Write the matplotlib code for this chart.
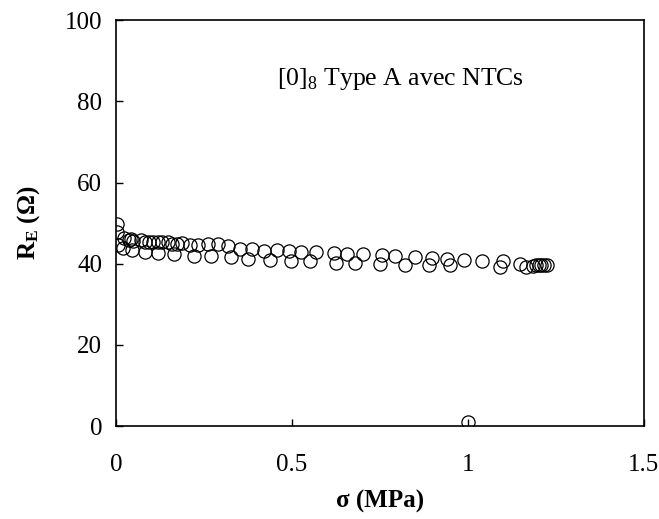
import matplotlib
matplotlib.use("Agg")
import matplotlib.pyplot as plt

# Data (stress in MPa, resistance in ohm)
sigma_upper = [0.004, 0.004, 0.024, 0.036, 0.042, 0.048, 0.072, 0.082, 0.093, 0.105,
               0.120, 0.132, 0.148, 0.160, 0.172, 0.189, 0.210, 0.234, 0.261, 0.290,
               0.318, 0.351, 0.387, 0.421, 0.457, 0.493, 0.526, 0.569, 0.619, 0.657,
               0.701, 0.755, 0.794, 0.851, 0.898, 0.940, 0.990, 1.040, 1.100, 1.148]
r_upper = [49.8, 47.9, 46.3, 45.9, 46.2, 45.7, 45.8, 45.3, 45.4, 45.3,
           45.4, 45.3, 45.4, 44.9, 44.8, 45.1, 44.5, 44.5, 44.9, 44.9,
           44.3, 43.7, 43.7, 43.2, 43.3, 43.1, 42.8, 42.8, 42.7, 42.4,
           42.3, 42.1, 41.8, 41.6, 41.4, 41.2, 41.0, 40.6, 40.6, 40.0]

sigma_lower = [0.006, 0.020, 0.046, 0.082, 0.120, 0.165, 0.222, 0.270, 0.328, 0.376,
               0.439, 0.496, 0.550, 0.625, 0.679, 0.749, 0.821, 0.889, 0.950, 1.091,
               1.166, 1.186, 1.194, 1.202, 1.208, 1.216, 1.224, 1.001]
r_lower = [44.7, 44.0, 43.3, 42.9, 42.7, 42.3, 42.0, 41.8, 41.6, 41.2,
           40.9, 40.6, 40.6, 40.2, 40.2, 40.0, 39.8, 39.6, 39.6, 39.2,
           39.2, 39.4, 39.6, 39.8, 39.8, 39.8, 39.8, 1.06]

x_ticks = [0, 0.5, 1, 1.5]
x_labels = ["0", "0.5", "1", "1.5"]
y_ticks = [0, 20, 40, 60, 80, 100]

plt.rcParams["font.family"] = ["Liberation Serif", "DejaVu Serif"]
plt.rcParams["mathtext.fontset"] = "custom"
plt.rcParams["mathtext.rm"] = "Liberation Serif"
plt.rcParams["mathtext.bf"] = "Liberation Serif:bold"

fig = plt.figure(figsize=(6.59, 5.19), dpi=100)
ax = fig.add_axes([0.176, 0.179, 0.801, 0.782])

marker_style = dict(marker="o", linestyle="none", markersize=9.5,
                    markerfacecolor="none", markeredgecolor="black", markeredgewidth=0.9)
ax.plot(sigma_upper, r_upper, **marker_style)
ax.plot(sigma_lower, r_lower, **marker_style)

ax.set_xlim(0, 1.5)
ax.set_ylim(0, 100)
ax.set_xticks(x_ticks)
ax.set_xticklabels(x_labels)
ax.set_yticks(y_ticks)
ax.tick_params(direction="in", length=5, width=1, labelsize=18)
ax.tick_params(axis="x", pad=20)
ax.tick_params(axis="y", pad=10)
for s in ax.spines.values():
    s.set_linewidth(1.2)

ax.set_xlabel("σ (MPa)", fontsize=18, fontweight="bold", labelpad=10)
ax.set_ylabel(r"$\mathbf{R_E}$ (Ω)", fontsize=18, fontweight="bold", labelpad=16)

ax.text(0.457, 85.5, r"[0]$_8$ Type A avec NTCs", fontsize=18.5, va="center", ha="left")

fig.savefig("out.png", dpi=100)
